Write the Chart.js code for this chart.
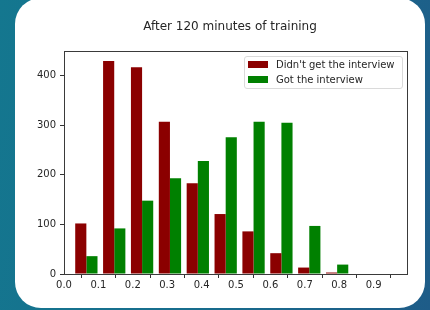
<!DOCTYPE html>
<html>
<head>
<meta charset="utf-8">
<script src="https://cdn.jsdelivr.net/npm/chart.js@4.4.1/dist/chart.umd.min.js"></script>
<style>
    html, body { margin: 0; padding: 0; }
    body {
        width: 430px;
        height: 310px;
        overflow: hidden;
        position: relative;
        background: linear-gradient(100deg, #14778f 0%, #176d8d 50%, #1e5c88 100%);
        font-family: 'DejaVu Sans', sans-serif;
    }
    #card {
        position: absolute;
        left: 15px;
        top: -2px;
        width: 410px;
        height: 310px;
        background: #fff;
        border-radius: 26px;
    }
    #chart { position: absolute; left: 0; top: 0; }
    #legend {
        position: absolute;
        left: 244px;
        top: 56px;
        width: 157px;
        height: 31px;
        border: 1px solid #dadada;
        border-radius: 3px;
        background: #fff;
    }
    .item {
        position: absolute;
        left: 3px;
        height: 14px;
        display: flex;
        align-items: center;
        font-size: 10px;
        color: #262626;
        white-space: nowrap;
    }
    .swatch { width: 20px; height: 7px; margin-right: 8px; }
</style>
</head>
<body>
<div id="card"></div>
<canvas id="chart" width="430" height="310"></canvas>
<div id="legend"></div>
<script>
// Histogram bins (centre of each bin) and counts per bin
const binCenters = [0.065, 0.146, 0.227, 0.308, 0.389, 0.470, 0.551, 0.632, 0.713, 0.794];
const notInterviewed = [102, 430, 417, 307, 183, 121, 86, 42, 13, 3];
const interviewed = [36, 92, 148, 193, 228, 276, 307, 305, 97, 19];

// Axis ticks
const xTickValues = [0, 0.1, 0.2, 0.3, 0.4, 0.5, 0.6, 0.7, 0.8, 0.9];
const yTickValues = [0, 100, 200, 300, 400];

const titleText = 'After 120 minutes of training';
const fontFamily = "'DejaVu Sans', sans-serif";
const textColor = '#262626';

// Title + full box frame like matplotlib axes
const frameAndTitle = {
    id: 'frameAndTitle',
    afterDraw(chart) {
        const { ctx, chartArea } = chart;
        ctx.save();
        ctx.strokeStyle = '#3a3a3a';
        ctx.lineWidth = 1;
        ctx.strokeRect(chartArea.left + 0.5, chartArea.top + 0.5,
            chartArea.right - chartArea.left - 1, chartArea.bottom - chartArea.top);
        ctx.fillStyle = textColor;
        ctx.font = `12px ${fontFamily}`;
        ctx.textAlign = 'center';
        ctx.textBaseline = 'middle';
        ctx.fillText(titleText, 230, 27);
        ctx.restore();
    }
};

const tickGrid = {
    display: true,
    drawOnChartArea: false,
    drawTicks: true,
    tickLength: 4,
    tickColor: '#333',
    tickWidth: 1
};

const chart = new Chart(document.getElementById('chart'), {
    type: 'bar',
    data: {
        datasets: [
            {
                label: "Didn't get the interview",
                data: binCenters.map((x, i) => ({ x, y: notInterviewed[i] })),
                backgroundColor: '#8b0000',
                borderWidth: 0
            },
            {
                label: 'Got the interview',
                data: binCenters.map((x, i) => ({ x, y: interviewed[i] })),
                backgroundColor: '#008000',
                borderWidth: 0
            }
        ]
    },
    options: {
        responsive: false,
        animation: false,
        categoryPercentage: 0.8,
        barPercentage: 1.0,
        layout: {
            padding: { left: 34, right: 22, top: 51, bottom: 16 }
        },
        plugins: {
            legend: { display: false },
            title: { display: false },
            tooltip: { enabled: false }
        },
        scales: {
            x: {
                type: 'linear',
                min: 0,
                max: 1.0,
                offset: false,
                grid: tickGrid,
                border: { display: false },
                afterBuildTicks: scale => {
                    scale.ticks = xTickValues.map(value => ({ value }));
                },
                afterFit: scale => {
                    scale.height = 20;
                },
                ticks: {
                    color: textColor,
                    font: { family: fontFamily, size: 10 },
                    padding: 1,
                    maxRotation: 0,
                    callback: value => value.toFixed(1)
                }
            },
            y: {
                min: 0,
                max: 450,
                grid: tickGrid,
                border: { display: false },
                afterBuildTicks: scale => {
                    scale.ticks = yTickValues.map(value => ({ value }));
                },
                afterFit: scale => {
                    scale.width = 30;
                },
                ticks: {
                    color: textColor,
                    font: { family: fontFamily, size: 10 },
                    padding: 4
                }
            }
        }
    },
    plugins: [frameAndTitle]
});

// Legend box inside the upper right of the axes
const legend = document.getElementById('legend');
chart.data.datasets.forEach((set, index) => {
    const item = document.createElement('div');
    item.className = 'item';
    item.style.top = (index * 15.5) + 'px';
    const swatch = document.createElement('span');
    swatch.className = 'swatch';
    swatch.style.background = set.backgroundColor;
    item.appendChild(swatch);
    item.appendChild(document.createTextNode(set.label));
    legend.appendChild(item);
});
</script>
</body>
</html>
